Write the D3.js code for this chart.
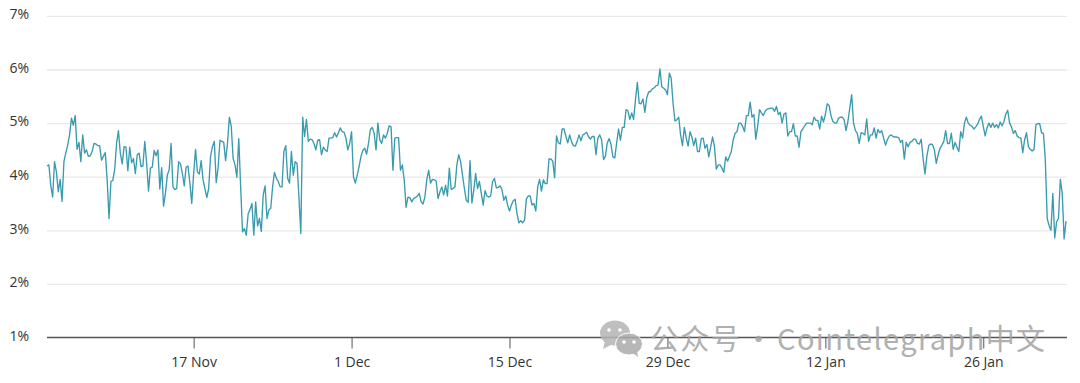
<!DOCTYPE html>
<html>
<head>
<meta charset="utf-8">
<script src="https://cdn.jsdelivr.net/npm/d3@7"></script>
<style>
  html, body { margin: 0; padding: 0; background: #fff; }
  text { font-family: "Open Sans", sans-serif; }
</style>
</head>
<body>
<div id="wrap"></div>
<script>
// one reading every 4 hours, starting 4 Nov
const startDate = "2024-11-04T00:00:00Z";
const stepHours = 4;
const values = [
  4.20,4.22,3.84,3.62,4.28,4.09,3.72,3.95,3.54,4.28,4.44,4.59,4.78,5.09,4.96,5.14,4.51,4.64,4.28,4.78,
  4.44,4.50,4.38,4.39,4.47,4.62,4.61,4.58,4.58,4.31,4.38,4.45,3.94,3.22,3.91,3.93,4.13,4.62,4.86,4.44,
  4.24,4.56,4.55,4.11,4.55,4.26,4.34,4.06,4.41,4.44,4.19,4.20,4.66,4.25,3.73,4.16,4.18,4.49,4.39,4.50,
  3.77,4.17,3.45,3.69,4.03,4.13,4.62,3.81,3.76,3.78,4.28,4.24,4.06,3.83,4.18,4.20,3.88,3.50,4.06,4.51,
  4.09,4.05,4.30,3.94,3.78,3.61,3.78,4.38,4.56,4.66,3.89,4.16,4.68,4.66,4.64,4.30,4.62,5.11,4.94,4.34,
  4.22,3.99,4.71,3.81,2.97,3.03,2.91,3.31,3.39,3.50,2.91,3.53,3.08,3.22,2.98,3.66,3.83,3.22,3.38,3.41,
  3.81,4.08,3.97,3.91,3.81,3.81,4.47,4.58,3.97,3.88,4.47,4.03,4.28,4.25,3.62,2.94,5.11,4.75,5.07,4.66,
  4.70,4.69,4.62,4.50,4.68,4.69,4.41,4.55,4.50,4.47,4.72,4.72,4.73,4.82,4.74,4.82,4.91,4.84,4.83,4.72,
  4.50,4.62,4.84,4.00,3.88,4.03,4.19,4.38,4.49,4.53,4.42,4.62,4.88,4.92,4.81,4.50,5.00,4.69,4.62,4.78,
  4.72,4.81,4.95,4.93,4.12,4.72,4.73,4.73,4.12,4.22,3.94,3.43,3.62,3.61,3.53,3.59,3.61,3.64,3.69,3.53,
  3.49,3.62,3.94,4.12,3.88,3.95,3.94,3.92,3.59,3.72,3.81,3.66,3.84,3.64,4.16,3.76,3.78,3.81,4.22,4.41,
  4.28,4.03,3.78,3.56,3.52,4.30,3.51,3.75,4.06,3.78,3.91,3.69,3.47,3.74,3.64,3.62,3.64,3.91,3.97,3.79,
  3.80,3.83,3.76,3.56,3.64,3.47,3.36,3.47,3.55,3.58,3.31,3.14,3.18,3.14,3.19,3.59,3.64,3.64,3.47,3.50,
  3.36,3.81,3.95,3.73,3.94,3.87,3.87,4.33,4.33,4.29,3.98,4.76,4.63,4.61,4.89,4.89,4.75,4.63,4.78,4.65,
  4.58,4.57,4.66,4.78,4.67,4.78,4.80,4.83,4.75,4.70,4.75,4.75,4.41,4.72,4.78,4.69,4.32,4.38,4.63,4.71,
  4.60,4.37,4.35,4.63,4.89,4.68,4.92,4.92,5.25,5.23,5.07,5.19,5.07,5.43,5.76,5.37,5.36,5.45,5.20,5.47,
  5.58,5.59,5.64,5.66,5.70,5.71,6.01,5.68,5.65,5.62,5.53,5.93,5.84,5.37,5.04,5.06,5.11,4.78,4.58,4.92,
  4.72,4.57,4.84,4.74,4.58,4.72,4.47,4.47,4.71,4.72,4.53,4.60,4.37,4.55,4.74,4.57,4.14,4.22,4.22,4.16,
  4.08,4.37,4.29,4.38,4.47,4.69,4.81,4.84,5.00,5.00,4.94,4.84,5.14,5.14,5.39,5.11,5.16,4.70,4.94,5.25,
  5.19,5.14,5.22,5.26,5.27,5.28,5.28,5.22,5.31,5.16,5.20,5.00,5.17,5.19,4.76,4.84,4.84,4.99,4.76,4.76,
  4.55,4.84,4.89,4.95,5.00,5.00,5.00,4.97,5.11,5.05,5.05,4.89,5.13,5.02,5.16,5.36,5.33,5.14,5.03,5.00,
  5.00,5.09,5.11,5.11,5.06,4.86,5.03,5.28,5.53,5.00,4.86,4.81,4.62,4.82,4.81,4.78,5.08,4.66,4.78,4.78,
  4.91,4.72,4.88,4.82,4.86,4.72,4.59,4.69,4.76,4.78,4.75,4.74,4.74,4.73,4.64,4.68,4.33,4.64,4.56,4.64,
  4.66,4.70,4.70,4.62,4.61,4.70,4.34,4.05,4.38,4.58,4.61,4.60,4.50,4.25,4.41,4.53,4.59,4.66,4.86,4.62,
  4.62,4.81,4.51,4.64,4.55,4.47,4.84,4.72,5.00,5.11,5.00,4.96,4.94,4.89,4.93,4.98,5.07,5.13,4.94,4.76,
  4.91,5.00,4.92,5.00,4.92,4.97,4.91,5.02,4.95,5.03,5.17,5.24,5.00,4.93,4.81,4.86,4.76,4.73,4.72,4.45,
  4.69,4.82,4.56,4.51,4.48,4.51,4.97,4.99,4.99,4.82,4.81,4.31,3.22,3.09,3.00,3.69,2.86,3.16,3.22,3.95,
  3.69,2.84,3.17
];
const yTicks = [1, 2, 3, 4, 5, 6, 7];
const xTickDates = ["2024-11-17", "2024-12-01", "2024-12-15", "2024-12-29", "2025-01-12", "2025-01-26"];
const xTickLabels = ["17 Nov", "1 Dec", "15 Dec", "29 Dec", "12 Jan", "26 Jan"];
const watermark = "公众号 · Cointelegraph中文";

const WIDTH = 1080;
const HEIGHT = 383;
const LEFT = 47;
const RIGHT = 1066;

const t0 = new Date(startDate);
const series = values.map((v, i) => ({ date: d3.utcHour.offset(t0, i * stepHours), value: v }));

const svg = d3.select('#wrap').append('svg')
  .attr('width', WIDTH)
  .attr('height', HEIGHT)
  .style('display', 'block')
  .style('background', '#fff');

const xScale = d3.scaleUtc()
  .domain(d3.extent(series, d => d.date))
  .range([LEFT, RIGHT]);

const yScale = d3.scaleLinear()
  .domain([1, 7])
  .range([337.5, 15.9]);

// y axis with grid lines
const yAxis = d3.axisLeft(yScale)
  .tickValues(yTicks)
  .tickSize(-(RIGHT + 1 - LEFT))
  .tickPadding(18)
  .tickFormat(d => d + '%');

const yG = svg.append('g')
  .attr('transform', 'translate(' + LEFT + ',0)')
  .call(yAxis);
yG.select('.domain').remove();
yG.selectAll('line')
  .attr('stroke', d => d === 1 ? 'none' : '#e9e9e9')
  .attr('stroke-width', 1.3);
yG.selectAll('text')
  .attr('dy', '0.2em')
  .style('font-size', '14px')
  .style('fill', '#333');

// x axis
const xAxis = d3.axisBottom(xScale)
  .tickValues(xTickDates.map(d => new Date(d + 'T00:00:00Z')))
  .tickSize(11)
  .tickPadding(9)
  .tickFormat((d, i) => xTickLabels[i]);

const xG = svg.append('g')
  .attr('transform', 'translate(0,337.5)')
  .call(xAxis);
xG.select('.domain')
  .attr('d', 'M' + LEFT + ',0H' + (RIGHT + 1))
  .attr('stroke', '#555')
  .attr('stroke-width', 1.3);
xG.selectAll('line').attr('stroke', '#555');
xG.selectAll('text')
  .style('font-size', '14px')
  .style('fill', '#333');

// the series
const line = d3.line()
  .x(d => xScale(d.date))
  .y(d => yScale(d.value));

svg.append('path')
  .datum(series)
  .attr('d', line)
  .attr('fill', 'none')
  .attr('stroke', '#3a9bae')
  .attr('stroke-width', 1.35)
  .attr('stroke-linejoin', 'round');

// watermark: wechat bubbles and account name
const mark = svg.append('g').attr('opacity', 0.85);
mark.append('ellipse').attr('cx', 615).attr('cy', 333).attr('rx', 15).attr('ry', 12.5).attr('fill', '#b5b5b5');
mark.append('path').attr('d', 'M605,341L603,349L613,344Z').attr('fill', '#b5b5b5');
mark.append('ellipse').attr('cx', 629).attr('cy', 344).attr('rx', 13.5).attr('ry', 11).attr('fill', '#ababab').attr('stroke', '#fff').attr('stroke-width', 1);
mark.append('path').attr('d', 'M633,353L638,357L637,350Z').attr('fill', '#ababab');
[[609, 330], [620, 330], [624, 342], [634, 342]].forEach(p => {
  mark.append('circle').attr('cx', p[0]).attr('cy', p[1]).attr('r', 1.8).attr('fill', '#fff');
});
svg.append('text')
  .attr('x', 650)
  .attr('y', 350)
  .attr('fill', '#a3a3a3')
  .attr('opacity', 0.85)
  .style('font-family', '"Noto Sans CJK SC", sans-serif')
  .style('font-size', '29px')
  .style('letter-spacing', '1.35px')
  .style('word-spacing', '-5px')
  .text(watermark);
</script>
</body>
</html>
